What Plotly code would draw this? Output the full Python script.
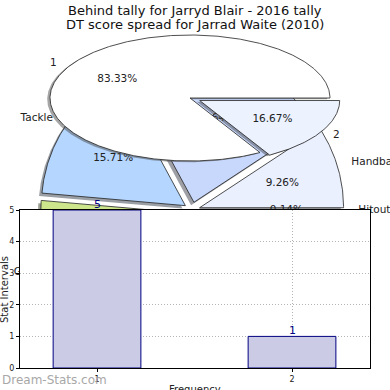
import numpy as np
import plotly.graph_objects as go

# ---------------- data ----------------
blair_labels = ["1", "2"]
blair_values = [83.33, 16.67]
blair_colors = ["#ffffff", "#ecf2fe"]
blair_explode = [0.0, 0.08]

dt_labels = ["Handball", "Mark", "Tackle", "Goal", "Kick", "Hitout"]
dt_values = [9.26, 23.64, 15.71, 15.0, 36.25, 0.14]
dt_colors = ["#eaf0fe", "#c8d8fc", "#b4d6ff", "#cde68c", "#d6e4f8", "#e8eefc"]
dt_explode = [0.055, 0.055, 0.055, 0.055, 0.055, 0.055]

bar_categories = [1, 2]
bar_values = [5, 1]
y_ticks = [0, 1, 2, 3, 4, 5]

title_1 = "Behind tally for Jarryd Blair - 2016 tally"
title_2 = "DT score spread for Jarrad Waite (2010)"

W = H = 390
FONT = "DejaVu Sans"

fig = go.Figure()


def hex_rgb(h):
    h = h.lstrip("#")
    return [int(h[i:i + 2], 16) for i in (0, 2, 4)]


def pie_traces(values, labels, colors, explode, cx, cy, rx, ry, xa, ya):
    """Build matplotlib-like pie wedges (with shadows) as filled scatter traces."""
    total = float(sum(values))
    shadows, wedges, texts = [], [], []
    t0 = 0.0
    for v, lab, col, ex in zip(values, labels, colors, explode):
        t1 = t0 + 360.0 * v / total
        mid = np.radians((t0 + t1) / 2)
        ox = cx + ex * rx * np.cos(mid)
        oy = cy - ex * ry * np.sin(mid)
        th = np.radians(np.linspace(t0, t1, max(4, int(abs(t1 - t0)) * 2)))
        xs = np.concatenate([[ox], ox + rx * np.cos(th), [ox]])
        ys = np.concatenate([[oy], oy - ry * np.sin(th), [oy]])
        r, g, b = hex_rgb(col)
        shadows.append(go.Scatter(
            x=xs - 0.02 * rx, y=ys + 0.02 * ry, mode="lines", fill="toself",
            fillcolor=f"rgba({int(r*0.3)},{int(g*0.3)},{int(b*0.3)},0.5)",
            line=dict(width=0), hoverinfo="skip", showlegend=False,
            xaxis=xa, yaxis=ya))
        wedges.append(go.Scatter(
            x=xs, y=ys, mode="lines", fill="toself", fillcolor=col,
            line=dict(color="#222222", width=0.8), hoverinfo="skip",
            showlegend=False, xaxis=xa, yaxis=ya))
        c, s = np.cos(mid), np.sin(mid)
        texts.append((ox + 0.6 * rx * c, oy - 0.6 * ry * s, f"{v:.2f}%", "middle center"))
        texts.append((ox + 1.1 * rx * c, oy - 1.1 * ry * s, lab,
                      "middle right" if c >= 0 else "middle left"))
        t0 = t1
    text_trace = go.Scatter(
        x=[t[0] for t in texts], y=[t[1] for t in texts],
        text=[t[2] for t in texts], textposition=[t[3] for t in texts],
        mode="text", textfont=dict(family=FONT, size=10.5, color="#222222"),
        hoverinfo="skip", showlegend=False, xaxis=xa, yaxis=ya, cliponaxis=False)
    return shadows + wedges + [text_trace]


# DT pie (lower pie layer)
for tr in pie_traces(dt_values, dt_labels, dt_colors, dt_explode, 192, 210, 144, 144, "x", "y"):
    fig.add_trace(tr)
# Blair pie (upper pie layer, squashed)
for tr in pie_traces(blair_values, blair_labels, blair_colors, blair_explode, 190, 98, 140, 63, "x", "y"):
    fig.add_trace(tr)

# Bar chart
fig.add_trace(go.Bar(
    x=bar_categories, y=bar_values, width=0.45,
    marker=dict(color="#cbcbe6", line=dict(color="#000080", width=1)),
    hoverinfo="skip", showlegend=False, cliponaxis=False,
    xaxis="x2", yaxis="y2"))


def ann(text, px, py, size, color="#222222", angle=0, xanchor="center"):
    return dict(text=text, x=px / W, y=1 - py / H, xref="paper", yref="paper",
                xanchor=xanchor, yanchor="middle", showarrow=False, textangle=angle,
                font=dict(family=FONT, size=size, color=color))


bar_labels = [dict(text=str(v), x=c, y=v, xref="x2", yref="y2", yanchor="bottom",
                   showarrow=False, borderpad=0, yshift=-2,
                   font=dict(family=FONT, size=11, color="#000080"))
              for c, v in zip(bar_categories, bar_values)]

grid = dict(showgrid=True, gridcolor="#b4b4b4", griddash="1px,2px", gridwidth=1)

fig.update_layout(
    template="none",
    width=W, height=H, margin=dict(l=0, r=0, t=0, b=0, pad=0),
    paper_bgcolor="white", plot_bgcolor="white",
    font=dict(family=FONT, color="#222222"),
    xaxis=dict(domain=[0, 1], range=[0, W], visible=False, fixedrange=True,
               automargin=False),
    yaxis=dict(domain=[0, 1], range=[H, 0], visible=False, fixedrange=True,
               automargin=False),
    xaxis2=dict(domain=[20 / W, 370 / W], range=[0.605, 2.4], anchor="y2",
                automargin=False, fixedrange=True,
                tickvals=bar_categories, ticktext=[str(c) for c in bar_categories],
                showline=True, linecolor="black", linewidth=1, mirror=True,
                ticks="outside", ticklen=3, tickcolor="black",
                tickfont=dict(family=FONT, size=8, color="#222222"),
                zeroline=False, **grid),
    yaxis2=dict(domain=[(H - 368) / H, (H - 210) / H], range=[0, 5], anchor="x2",
                automargin=False, fixedrange=True,
                tickvals=y_ticks,
                showline=True, linecolor="black", linewidth=1, mirror=True,
                ticks="outside", ticklen=3, tickcolor="black",
                tickfont=dict(family=FONT, size=8, color="#222222"),
                zeroline=False, **grid),
    annotations=[
        ann(title_1, 195, 10, 13, "#111111"),
        ann(title_2, 195, 25, 13, "#111111"),
        ann("Frequency", 195, 389, 10),
        ann("Stat Intervals", 4, 290, 10, angle=-90),
        ann("Dream-Stats.com", 0, 380, 12, "#a8a8a8", xanchor="left"),
    ] + bar_labels,
)

fig.write_html("out.html", config={"displayModeBar": False},
               post_script="document.body.style.margin='0px';")
